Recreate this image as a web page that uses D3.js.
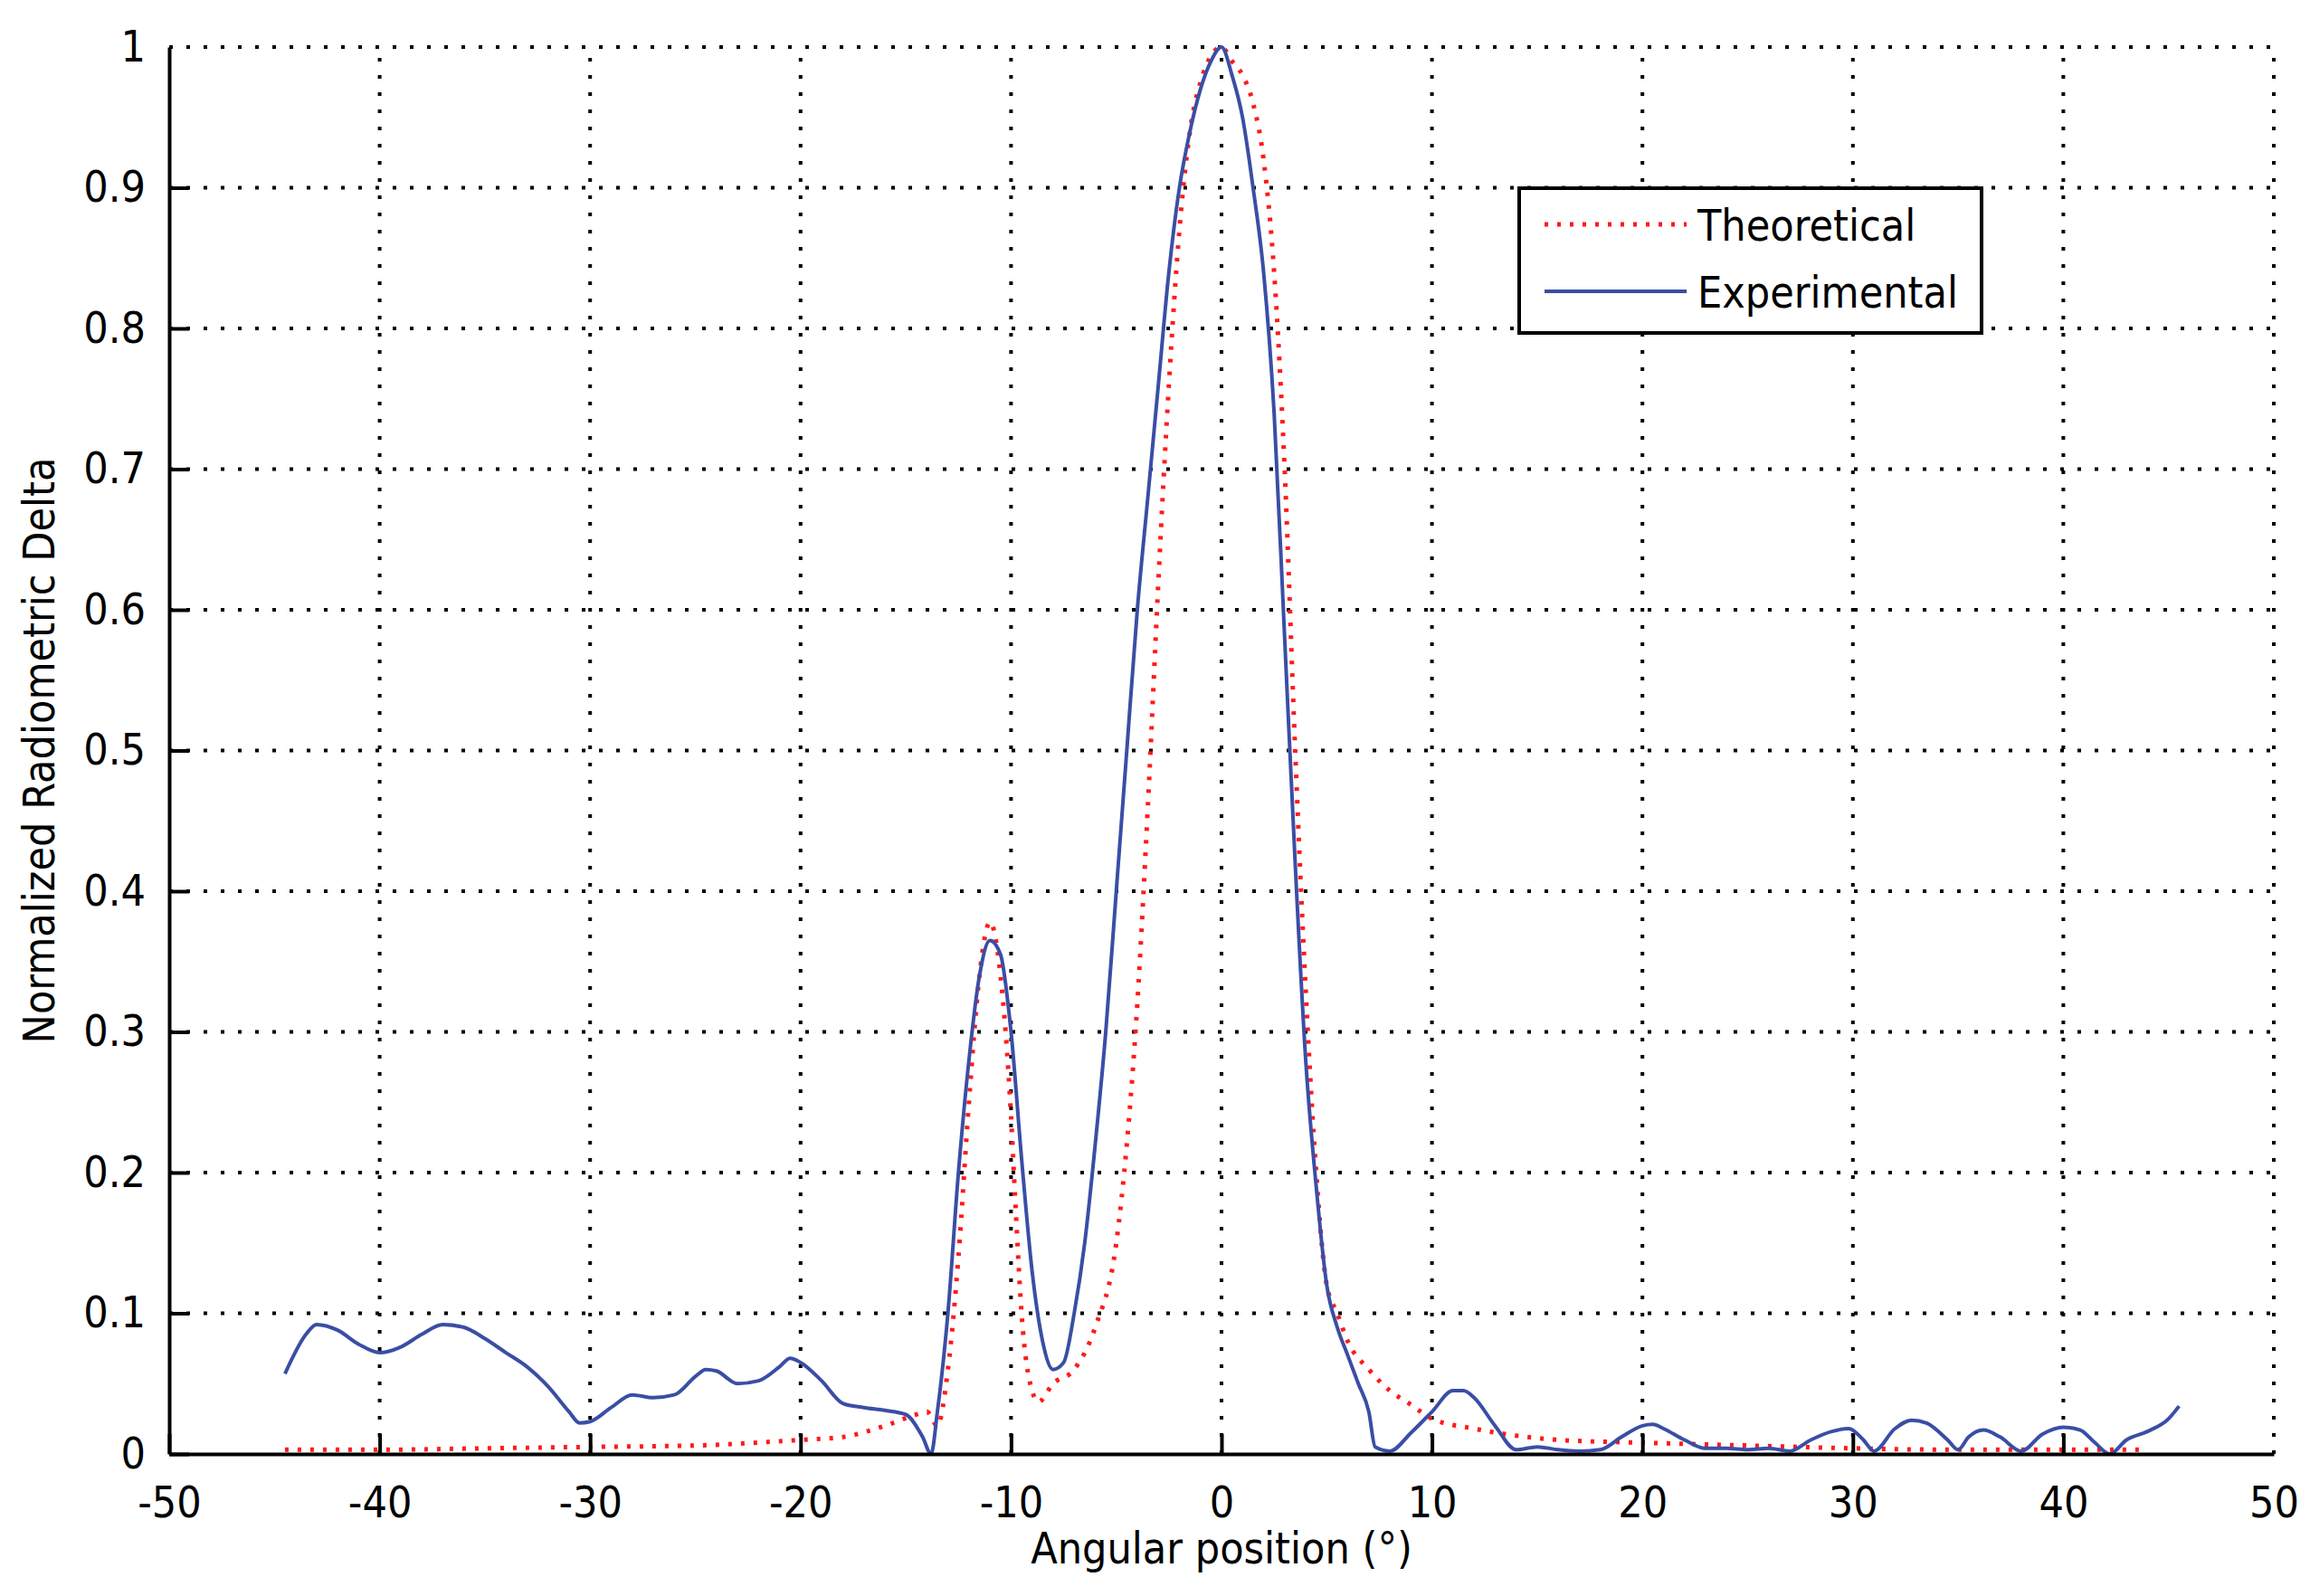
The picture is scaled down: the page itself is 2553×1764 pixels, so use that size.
<!DOCTYPE html>
<html>
<head>
<meta charset="utf-8">
<script src="https://cdn.jsdelivr.net/npm/d3@7"></script>
<style>
  body { margin: 0; background: #fff; }
  text { font-family: "Liberation Sans Narrow", "Arial Narrow", "DejaVu Sans Condensed", sans-serif; fill: #000; }
</style>
</head>
<body>
<svg id="chart" width="2553" height="1764"></svg>
<script>
const WIDTH = 2553;
const HEIGHT = 1764;
const margin = { left: 187, right: 2553 - 2513, top: 52, bottom: 1764 - 1607 };

const xTicks = [-50, -40, -30, -20, -10, 0, 10, 20, 30, 40, 50];
const yTicks = [0, 0.1, 0.2, 0.3, 0.4, 0.5, 0.6, 0.7, 0.8, 0.9, 1];
const seriesNames = ['Theoretical', 'Experimental'];

const theoreticalX = [-44.5, -40, -35, -30, -25, -20, -18, -16, -14.5, -14, -13.5, -13, -12.5, -12, -11.5, -11,
  -10.5, -10, -9.8, -9.5, -9, -8.7, -8, -7, -6, -5, -4.5, -4, -3.5, -3, -2.5, -2, -1.5, -1, 0, 0.5, 1, 1.5,
  2, 2.5, 3, 3.5, 4, 4.5, 5, 5.5, 6, 7, 8, 9, 10, 12, 14, 16, 20, 25, 30, 35, 40, 44];
const theoreticalY = [0.003, 0.003, 0.004, 0.005, 0.006, 0.01, 0.012, 0.02, 0.028, 0.03, 0.02, 0.06, 0.14, 0.25, 0.34, 0.378,
  0.34, 0.24, 0.18, 0.1, 0.045, 0.037, 0.05, 0.06, 0.09, 0.15, 0.22, 0.32, 0.46, 0.62, 0.76, 0.87, 0.94, 0.975, 1.0, 0.99, 0.98, 0.96,
  0.92, 0.84, 0.7, 0.5, 0.33, 0.2, 0.12, 0.1, 0.08, 0.06, 0.045, 0.035, 0.025, 0.018, 0.013, 0.01, 0.008, 0.006, 0.004, 0.003, 0.003, 0.003];

const experimentalX = [-44.5, -43.5, -43, -42, -41, -40, -39, -38, -37, -36, -35, -34, -33, -32, -31, -30.5, -30,
  -29, -28, -27, -26, -25, -24.5, -24, -23, -22, -21, -20.5, -20, -19, -18, -17, -16, -15, -14.2, -13.8, -13.5,
  -13, -12.5, -12, -11.5, -11, -10.5, -10, -9.5, -9, -8.5, -8, -7.5, -7, -6.5, -6, -5.5, -5, -4.5, -4, -3.5,
  -3, -2.5, -2, -1.5, -1, -0.5, 0, 0.5, 1, 1.5, 2, 2.5, 3, 3.5, 4, 4.5, 5, 5.5, 6, 6.5, 7, 7.3, 8, 9, 10,
  11, 11.5, 12, 13, 14, 15, 16, 17, 18, 19, 20, 20.5, 21, 22, 23, 24, 25, 26, 27, 28, 29, 29.8, 30.5, 31,
  32, 32.8, 33.5, 34.5, 35, 35.5, 36.2, 37, 38, 39, 40, 40.8, 41.5, 42.2, 43, 44, 45, 45.5];
const experimentalY = [0.057, 0.085, 0.092, 0.088, 0.078, 0.072, 0.076, 0.085, 0.092, 0.09, 0.082, 0.072, 0.062, 0.048, 0.03, 0.022, 0.023,
  0.033, 0.042, 0.04, 0.042, 0.055, 0.06, 0.059, 0.05, 0.052, 0.062, 0.068, 0.065, 0.052, 0.036, 0.033, 0.031, 0.028, 0.012, 0.0, 0.03,
  0.1, 0.2, 0.28, 0.34, 0.365, 0.355, 0.3, 0.21, 0.13, 0.08, 0.06, 0.065, 0.1, 0.15, 0.22, 0.3, 0.4, 0.5, 0.6, 0.68,
  0.76, 0.84, 0.9, 0.94, 0.97, 0.99, 1.0, 0.98, 0.95, 0.9, 0.84, 0.74, 0.58, 0.42, 0.28, 0.19, 0.12, 0.09, 0.07, 0.05, 0.03, 0.005, 0.002, 0.015, 0.03,
  0.045, 0.045, 0.04, 0.02, 0.003, 0.005, 0.003, 0.002, 0.003, 0.012, 0.02, 0.021, 0.018, 0.01, 0.004, 0.004, 0.003, 0.004, 0.002, 0.01, 0.016, 0.018, 0.01, 0.002,
  0.018, 0.024, 0.022, 0.01, 0.003, 0.012, 0.017, 0.012, 0.002, 0.014, 0.019, 0.017, 0.008, 0.0, 0.01, 0.016, 0.025, 0.034];

const RED = '#ff1a1a';
const BLUE = '#3a4ea5';

const svg = d3.select('#chart');
const x = d3.scaleLinear().domain([-50, 50]).range([margin.left, WIDTH - margin.right]);
const y = d3.scaleLinear().domain([0, 1]).range([HEIGHT - margin.bottom, margin.top]);

// dotted grid
const grid = svg.append('g').attr('stroke', '#000').attr('stroke-width', 4).attr('stroke-dasharray', '4,15');
grid.selectAll('.gx').data(xTicks.slice(1)).join('line')
  .attr('x1', d => x(d)).attr('x2', d => x(d)).attr('y1', y(0)).attr('y2', y(1));
grid.selectAll('.gy').data(yTicks.slice(1)).join('line')
  .attr('x1', x(-50)).attr('x2', x(50)).attr('y1', d => y(d)).attr('y2', d => y(d));

const line = d3.line().x(d => x(d[0])).y(d => y(d[1]));

svg.append('path')
  .datum(theoreticalX.map((v, i) => [v, theoreticalY[i]]))
  .attr('d', line.curve(d3.curveMonotoneX))
  .attr('fill', 'none').attr('stroke', RED).attr('stroke-width', 5).attr('stroke-dasharray', '4,10');

svg.append('path')
  .datum(experimentalX.map((v, i) => [v, experimentalY[i]]))
  .attr('d', line.curve(d3.curveMonotoneX))
  .attr('fill', 'none').attr('stroke', BLUE).attr('stroke-width', 4);

// axes
const xAxis = svg.append('g')
  .attr('transform', `translate(0,${y(0)})`)
  .call(d3.axisBottom(x).tickValues(xTicks).tickSizeInner(-22).tickSizeOuter(0).tickPadding(36).tickFormat(d => String(d)));
const yAxis = svg.append('g')
  .attr('transform', `translate(${x(-50)},0)`)
  .call(d3.axisLeft(y).tickValues(yTicks).tickSizeInner(-22).tickSizeOuter(0).tickPadding(26).tickFormat(d => String(d)));
[xAxis, yAxis].forEach(a => {
  a.select('.domain').attr('stroke', '#000').attr('stroke-width', 4);
  a.selectAll('.tick line').attr('stroke', '#000').attr('stroke-width', 4);
  a.selectAll('.tick text').attr('font-size', 48).attr('font-family', null).attr('fill', '#000');
});
xAxis.select('.tick:last-child line').remove();
yAxis.select('.tick:last-child line').remove();

svg.append('text').attr('x', (x(-50) + x(50)) / 2).attr('y', 1728)
  .attr('text-anchor', 'middle').attr('font-size', 48).text('Angular position (°)');
svg.append('text')
  .attr('transform', `translate(60,${(y(0) + y(1)) / 2}) rotate(-90)`)
  .attr('text-anchor', 'middle').attr('font-size', 48).text('Normalized Radiometric Delta');

// legend
const legend = svg.append('g');
legend.append('rect').attr('x', 1679).attr('y', 208).attr('width', 511).attr('height', 160)
  .attr('fill', '#fff').attr('stroke', '#000').attr('stroke-width', 4);
const rows = [248, 322];
legend.selectAll('line').data(seriesNames).join('line')
  .attr('x1', 1707).attr('x2', 1864).attr('y1', (d, i) => rows[i]).attr('y2', (d, i) => rows[i])
  .attr('stroke', (d, i) => i === 0 ? RED : BLUE).attr('stroke-width', (d, i) => i === 0 ? 5 : 4)
  .attr('stroke-dasharray', (d, i) => i === 0 ? '4,10' : null);
legend.selectAll('text').data(seriesNames).join('text')
  .attr('x', 1876).attr('y', (d, i) => rows[i] + 18).attr('font-size', 48).text(d => d);
</script>
</body>
</html>
